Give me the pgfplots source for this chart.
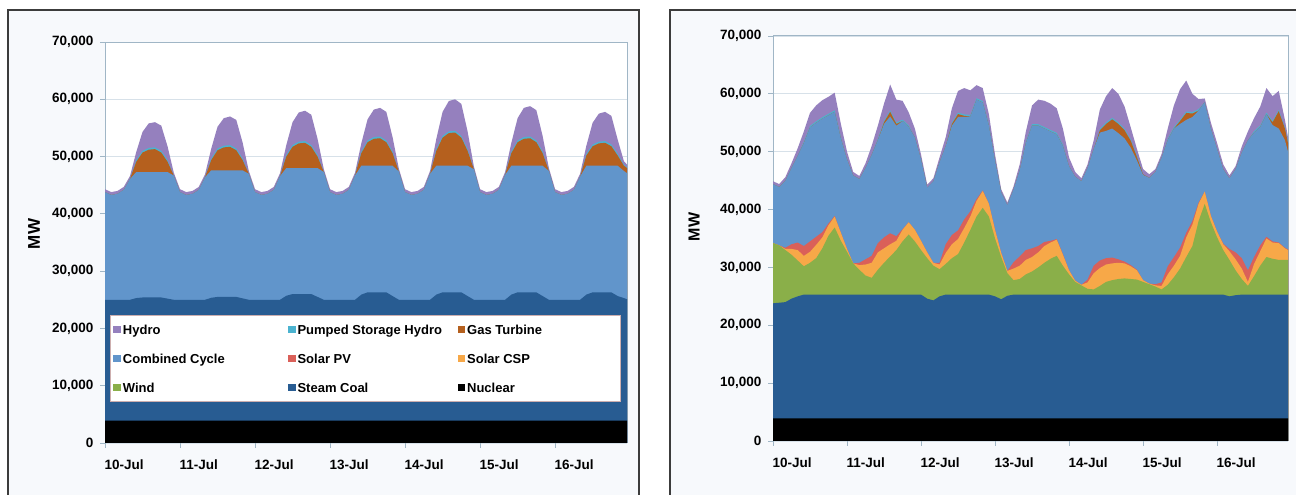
\documentclass[border=0pt]{standalone}
\usepackage{fontspec}
\setmainfont{Liberation Sans}
\usepackage{pgfplots}
\usepackage{pgfplotstable}
\pgfplotsset{compat=1.18}
\definecolor{hydroc}{RGB}{149,128,190}
\definecolor{pshc}{RGB}{75,179,208}
\definecolor{gtc}{RGB}{181,96,30}
\definecolor{ccc}{RGB}{97,149,203}
\definecolor{pvc}{RGB}{218,96,89}
\definecolor{cspc}{RGB}{247,168,72}
\definecolor{windc}{RGB}{138,175,73}
\definecolor{coalc}{RGB}{40,92,146}
\definecolor{nucc}{RGB}{0,0,0}
\definecolor{panelbg}{RGB}{247,249,252}
\definecolor{framec}{RGB}{60,60,60}
\definecolor{axisc}{RGB}{160,182,198}
\definecolor{gridc}{RGB}{215,225,233}
\definecolor{legc}{RGB}{205,175,175}

\pgfplotstableread{
h nuc coal cc gt psh hydro
0 3.9 25.0 43.8 43.8 43.8 44.3
2 3.9 25.0 43.3 43.3 43.3 43.8
4 3.9 25.0 43.5 43.5 43.5 44.0
6 3.9 25.0 44.2 44.2 44.2 44.7
8 3.9 25.0 46.1 46.1 46.1 46.6
10 3.9 25.3 47.3 49.1 49.4 50.8
12 3.9 25.4 47.3 50.7 51.0 54.3
14 3.9 25.4 47.3 51.2 51.5 55.8
16 3.9 25.4 47.3 51.3 51.6 56.0
18 3.9 25.4 47.3 50.7 51.0 55.4
20 3.9 25.2 47.3 49.1 49.4 51.8
22 3.9 25.0 46.7 46.7 46.7 47.2
24 3.9 25.0 43.8 43.8 43.8 44.3
26 3.9 25.0 43.3 43.3 43.3 43.8
28 3.9 25.0 43.5 43.5 43.5 44.0
30 3.9 25.0 44.2 44.2 44.2 44.7
32 3.9 25.0 46.4 46.4 46.4 46.9
34 3.9 25.35 47.6 49.4 49.7 51.4
36 3.9 25.5 47.6 51.1 51.4 55.2
38 3.9 25.5 47.6 51.6 51.9 56.7
40 3.9 25.5 47.6 51.7 52.0 57.0
42 3.9 25.5 47.6 51.1 51.4 56.4
44 3.9 25.25 47.6 49.4 49.7 52.5
46 3.9 25.0 47.0 47.0 47.0 47.5
48 3.9 25.0 43.8 43.8 43.8 44.3
50 3.9 25.0 43.3 43.3 43.3 43.8
52 3.9 25.0 43.5 43.5 43.5 44.0
54 3.9 25.0 44.2 44.2 44.2 44.7
56 3.9 25.0 46.6 46.6 46.6 47.1
58 3.9 25.7 48.0 50.0 50.3 52.0
60 3.9 26.0 48.0 51.7 52.0 56.0
62 3.9 26.0 48.0 52.3 52.6 57.7
64 3.9 26.0 48.0 52.4 52.7 58.0
66 3.9 26.0 48.0 51.7 52.0 57.3
68 3.9 25.5 48.0 50.0 50.3 53.1
70 3.9 25.0 47.3 47.3 47.3 47.8
72 3.9 25.0 43.8 43.8 43.8 44.3
74 3.9 25.0 43.3 43.3 43.3 43.8
76 3.9 25.0 43.5 43.5 43.5 44.0
78 3.9 25.0 44.2 44.2 44.2 44.7
80 3.9 25.0 46.7 46.7 46.7 47.2
82 3.9 25.9 48.4 50.6 50.9 52.3
84 3.9 26.3 48.4 52.5 52.8 56.5
86 3.9 26.3 48.4 53.1 53.4 58.2
88 3.9 26.3 48.4 53.2 53.5 58.5
90 3.9 26.3 48.4 52.5 52.8 57.8
92 3.9 25.65 48.4 50.6 50.9 53.4
94 3.9 25.0 47.4 47.4 47.4 47.9
96 3.9 25.0 43.8 43.8 43.8 44.3
98 3.9 25.0 43.3 43.3 43.3 43.8
100 3.9 25.0 43.5 43.5 43.5 44.0
102 3.9 25.0 44.2 44.2 44.2 44.7
104 3.9 25.0 47.0 47.0 47.0 47.5
106 3.9 25.9 48.4 51.0 51.3 53.1
108 3.9 26.3 48.4 53.3 53.6 57.8
110 3.9 26.3 48.4 54.1 54.4 59.7
112 3.9 26.3 48.4 54.2 54.5 60.0
114 3.9 26.3 48.4 53.3 53.6 59.2
116 3.9 25.65 48.4 51.0 51.3 54.4
118 3.9 25.0 47.8 47.8 47.8 48.3
120 3.9 25.0 43.8 43.8 43.8 44.3
122 3.9 25.0 43.3 43.3 43.3 43.8
124 3.9 25.0 43.5 43.5 43.5 44.0
126 3.9 25.0 44.2 44.2 44.2 44.7
128 3.9 25.0 46.8 46.8 46.8 47.3
130 3.9 25.9 48.4 50.6 50.9 52.4
132 3.9 26.3 48.4 52.5 52.8 56.7
134 3.9 26.3 48.4 53.1 53.4 58.5
136 3.9 26.3 48.4 53.2 53.5 58.8
138 3.9 26.3 48.4 52.5 52.8 58.1
140 3.9 25.65 48.4 50.6 50.9 53.6
142 3.9 25.0 47.5 47.5 47.5 48.0
144 3.9 25.0 43.8 43.8 43.8 44.3
146 3.9 25.0 43.3 43.3 43.3 43.8
148 3.9 25.0 43.5 43.5 43.5 44.0
150 3.9 25.0 44.2 44.2 44.2 44.7
152 3.9 25.0 46.5 46.5 46.5 47.0
154 3.9 25.9 48.4 50.2 50.5 51.9
156 3.9 26.3 48.4 51.8 52.1 55.9
158 3.9 26.3 48.4 52.3 52.6 57.5
160 3.9 26.3 48.4 52.4 52.7 57.8
162 3.9 26.3 48.4 51.8 52.1 57.1
164 3.9 25.65 48.4 50.2 50.5 53.0
166 3.9 25.3 47.5 48.4 48.6 49.2
167 3.9 25.1 47.1 48.0 48.1 48.6
}\leftdata

\pgfplotstableread{
h nuc coal wind csp pv cc gt psh hydro
0 3.9 23.8 34.2 34.2 34.2 44.4 44.4 44.4 44.9
2 3.9 23.9 33.8 33.8 33.8 43.9 43.9 43.9 44.4
4 3.9 24.0 33.0 33.2 33.4 45.0 45.0 45.0 45.6
6 3.9 24.6 32.2 33.2 34.0 47.2 47.2 47.2 48.0
8 3.9 25.0 31.2 33.0 34.3 49.3 49.3 49.3 50.6
10 3.9 25.3 30.2 32.0 33.7 51.5 51.5 51.75 53.5
12 3.9 25.3 30.8 32.7 34.5 54.2 54.2 54.45 56.7
14 3.9 25.3 31.6 33.9 35.3 55.0 55.0 55.25 58.0
16 3.9 25.3 33.3 35.2 36.1 55.7 55.7 55.95 58.9
18 3.9 25.3 35.5 37.3 37.6 56.3 56.3 56.55 59.5
20 3.9 25.3 36.9 38.8 38.9 56.9 56.9 57.15 60.2
22 3.9 25.3 34.6 36.0 36.0 52.3 52.3 52.55 54.8
24 3.9 25.3 32.7 33.2 33.2 48.7 48.7 48.7 50.0
26 3.9 25.3 30.7 30.7 30.7 45.9 45.9 45.9 46.5
28 3.9 25.3 29.6 30.4 30.8 45.3 45.3 45.3 45.8
30 3.9 25.3 28.6 30.5 31.4 47.2 47.2 47.2 48.0
32 3.9 25.3 28.2 30.8 32.0 49.5 49.5 49.5 51.0
34 3.9 25.3 29.6 32.6 34.2 52.0 52.0 52.25 54.5
36 3.9 25.3 30.8 33.3 35.2 54.8 55.1 55.35 58.3
38 3.9 25.3 31.9 34.0 35.9 56.1 56.9 57.15 61.6
40 3.9 25.3 33.0 34.6 35.4 54.5 54.8 55.05 59.0
42 3.9 25.3 34.5 36.5 36.6 55.3 55.3 55.55 58.8
44 3.9 25.3 35.7 37.8 37.8 54.3 54.3 54.55 56.8
46 3.9 25.3 34.5 36.5 36.5 52.5 52.5 52.5 54.0
48 3.9 25.3 33.0 34.6 34.6 48.7 48.7 48.7 49.5
50 3.9 24.6 31.6 32.6 32.6 43.8 43.8 43.8 44.3
52 3.9 24.3 30.3 30.8 30.8 44.9 44.9 44.9 45.4
54 3.9 25.0 29.7 30.5 30.8 48.2 48.2 48.2 49.0
56 3.9 25.3 30.6 32.5 34.0 51.0 51.0 51.0 52.5
58 3.9 25.3 31.6 34.0 35.6 54.5 54.8 55.05 57.5
60 3.9 25.3 32.3 34.9 36.4 56.0 56.5 56.75 60.5
62 3.9 25.3 34.3 36.8 38.3 56.0 56.2 56.45 61.0
64 3.9 25.3 36.5 38.8 39.7 56.1 56.1 56.35 60.6
66 3.9 25.3 38.8 41.5 41.8 59.0 59.0 59.25 61.5
68 3.9 25.3 40.3 43.2 43.3 58.5 58.5 58.75 61.0
70 3.9 25.3 38.8 41.0 41.0 54.5 54.5 54.75 56.5
72 3.9 25.0 35.0 36.5 36.5 48.5 48.5 48.5 49.5
74 3.9 24.5 31.8 32.5 32.5 43.0 43.0 43.0 43.5
76 3.9 25.1 29.0 29.4 29.4 40.8 40.8 40.8 41.2
78 3.9 25.3 27.8 29.8 30.9 43.5 43.5 43.5 44.0
80 3.9 25.3 28.0 30.3 31.9 46.8 46.8 46.8 47.8
82 3.9 25.3 28.8 31.3 33.0 51.5 51.5 51.75 53.5
84 3.9 25.3 29.3 31.8 33.3 54.5 54.5 54.75 58.0
86 3.9 25.3 30.0 32.6 33.7 54.5 54.5 54.75 59.0
88 3.9 25.3 30.8 33.7 34.4 54.0 54.0 54.25 58.8
90 3.9 25.3 31.5 34.3 34.6 53.5 53.5 53.75 58.3
92 3.9 25.3 32.0 34.8 34.9 53.0 53.0 53.25 57.5
94 3.9 25.3 30.3 32.2 32.3 51.0 51.0 51.25 54.0
96 3.9 25.3 28.8 29.5 29.5 47.5 47.5 47.5 49.0
98 3.9 25.3 27.5 27.7 27.7 45.7 45.7 45.7 46.5
100 3.9 25.3 26.9 27.0 27.0 44.9 44.9 44.9 45.4
102 3.9 25.3 26.3 27.4 27.9 47.2 47.2 47.2 47.8
104 3.9 25.3 26.2 29.0 30.3 50.5 50.5 50.5 52.0
106 3.9 25.3 26.8 29.9 31.2 53.3 53.7 53.95 57.3
108 3.9 25.3 27.5 30.5 31.6 53.6 54.8 55.05 59.6
110 3.9 25.3 27.8 30.7 31.7 54.0 55.6 55.85 61.0
112 3.9 25.3 28.0 30.8 31.4 53.2 54.8 55.05 60.0
114 3.9 25.3 28.1 30.7 31.0 52.3 53.7 53.95 57.8
116 3.9 25.3 28.0 30.2 30.4 50.7 51.9 52.15 54.2
118 3.9 25.3 27.9 29.5 29.6 48.5 49.1 49.35 50.5
120 3.9 25.3 27.5 27.8 27.8 46.0 46.1 46.1 47.0
122 3.9 25.3 27.1 27.2 27.2 45.5 45.5 45.5 46.1
124 3.9 25.3 26.7 26.9 27.1 46.5 46.5 46.5 47.0
126 3.9 25.3 26.2 26.8 27.4 49.0 49.0 49.0 49.6
128 3.9 25.3 27.0 28.8 30.2 52.0 52.0 52.25 54.0
130 3.9 25.3 28.3 30.3 31.8 54.0 54.0 54.25 58.0
132 3.9 25.3 29.8 32.0 33.4 54.8 55.3 55.55 60.8
134 3.9 25.3 31.8 35.2 36.0 55.5 56.7 56.95 62.3
136 3.9 25.3 33.7 37.4 38.0 56.0 56.6 56.85 60.0
138 3.9 25.3 38.0 41.0 41.2 57.1 57.1 57.35 59.1
140 3.9 25.3 41.0 43.1 43.1 58.6 58.6 58.6 59.2
142 3.9 25.3 37.8 38.9 38.9 54.0 54.0 54.0 55.0
144 3.9 25.3 35.2 36.2 36.2 50.5 50.5 50.5 51.5
146 3.9 25.3 33.0 34.0 34.1 47.0 47.0 47.0 47.8
148 3.9 25.0 31.3 32.8 33.2 45.4 45.4 45.4 45.9
150 3.9 25.2 29.5 31.4 32.6 47.0 47.0 47.0 47.5
152 3.9 25.3 28.0 29.8 31.6 49.9 49.9 49.9 50.9
154 3.9 25.3 26.8 27.5 29.5 52.0 52.0 52.0 53.5
156 3.9 25.3 28.5 30.6 31.8 53.3 53.3 53.55 55.8
158 3.9 25.3 30.3 32.8 33.8 54.3 54.3 54.55 57.8
160 3.9 25.3 31.8 35.0 35.3 56.5 56.5 56.75 61.0
162 3.9 25.3 31.5 34.3 34.5 54.6 55.1 55.35 59.6
164 3.9 25.3 31.3 34.2 34.3 54.0 57.0 57.25 60.5
166 3.9 25.3 31.3 33.3 33.4 52.0 54.0 54.2 55.5
167 3.9 25.3 31.3 33.0 33.1 50.0 51.5 51.7 52.5
}\rightdata

\pgfplotsset{
  panel/.style={
    scale only axis, anchor=south west,
    xmin=0, xmax=167, ymin=0, ymax=70,
    xtick={0,24,...,144},
    xticklabels={10-Jul,11-Jul,12-Jul,13-Jul,14-Jul,15-Jul,16-Jul},
    ytick={0,10,...,70},
    yticklabels={0,{10,000},{20,000},{30,000},{40,000},{50,000},{60,000},{70,000}},
    /pgf/number format/assume math mode=true,
    tick align=outside, tick pos=left, major tick length=5pt,
    ymajorgrids, grid style={gridc, line width=0.8pt},
    axis line style={axisc, line width=1pt},
    every tick/.style={axisc, line width=0.8pt},
    ticklabel style={font=\fontsize{13.5}{16}\selectfont\bfseries},
    xticklabel style={anchor=north west, xshift=-4pt, yshift=-8pt},
    yticklabel style={xshift=-3pt},
    axis background/.style={fill=white},
    legend image code/.code={\fill[##1] (0pt,-3.8pt) rectangle (7.6pt,3.8pt);},
  },
  area/.style={fill=#1, draw=none},
}

\begin{document}
\begin{tikzpicture}
\useasboundingbox (0pt,0pt) rectangle (1296pt,495pt);
\fill[white] (0pt,0pt) rectangle (1296pt,495pt);
\fill[panelbg] (8pt,0pt) rectangle (639pt,485pt);
\fill[panelbg] (670pt,0pt) rectangle (1296pt,485pt);
\draw[framec, line width=1.4pt] (8pt,-3pt) -- (8pt,485pt) -- (639pt,485pt) -- (639pt,-3pt);
\draw[framec, line width=1.4pt] (670pt,-3pt) -- (670pt,485pt) -- (1300pt,485pt);

\begin{axis}[panel, at={(105pt,52pt)}, width=522pt, height=401pt,
  legend columns=3, legend cell align=left,
  legend style={at={(rel axis cs:0.0096,0.319)}, anchor=north west,
    fill=white, draw=legc, line width=0.7pt,
    font=\fontsize{13}{15.6}\selectfont\bfseries,
    inner xsep=3pt, inner ysep=6pt, row sep=12.5pt},
  ]
\addplot[area=hydroc] table[x=h,y=hydro]{\leftdata} \closedcycle;
\addlegendentry{\makebox[163pt][l]{\strut Hydro}}
\addplot[area=pshc] table[x=h,y=psh]{\leftdata} \closedcycle;
\addlegendentry{\makebox[158pt][l]{\strut Pumped Storage Hydro}}
\addplot[area=gtc] table[x=h,y=gt]{\leftdata} \closedcycle;
\addlegendentry{\makebox[148pt][l]{\strut Gas Turbine}}
\addplot[area=ccc] table[x=h,y=cc]{\leftdata} \closedcycle;
\addlegendentry{\makebox[163pt][l]{\strut Combined Cycle}}
\addlegendimage{area=pvc}
\addlegendentry{\makebox[158pt][l]{\strut Solar PV}}
\addlegendimage{area=cspc}
\addlegendentry{\makebox[148pt][l]{\strut Solar CSP}}
\addlegendimage{area=windc}
\addlegendentry{\makebox[163pt][l]{\strut Wind}}
\addplot[area=coalc] table[x=h,y=coal]{\leftdata} \closedcycle;
\addlegendentry{\makebox[158pt][l]{\strut Steam Coal}}
\addplot[area=nucc] table[x=h,y=nuc]{\leftdata} \closedcycle;
\addlegendentry{\makebox[148pt][l]{\strut Nuclear}}
\end{axis}

\begin{axis}[panel, at={(773pt,54pt)}, width=515pt, height=405pt]
\addplot[area=hydroc] table[x=h,y=hydro]{\rightdata} \closedcycle;
\addplot[area=pshc] table[x=h,y=psh]{\rightdata} \closedcycle;
\addplot[area=gtc] table[x=h,y=gt]{\rightdata} \closedcycle;
\addplot[area=ccc] table[x=h,y=cc]{\rightdata} \closedcycle;
\addplot[area=pvc] table[x=h,y=pv]{\rightdata} \closedcycle;
\addplot[area=cspc] table[x=h,y=csp]{\rightdata} \closedcycle;
\addplot[area=windc] table[x=h,y=wind]{\rightdata} \closedcycle;
\addplot[area=coalc] table[x=h,y=coal]{\rightdata} \closedcycle;
\addplot[area=nucc] table[x=h,y=nuc]{\rightdata} \closedcycle;
\end{axis}

\node[rotate=90, font=\fontsize{17}{20}\selectfont\bfseries] at (34pt,261pt) {MW};
\node[rotate=90, font=\fontsize{16}{19}\selectfont\bfseries] at (694pt,268pt) {MW};
\end{tikzpicture}
\end{document}
